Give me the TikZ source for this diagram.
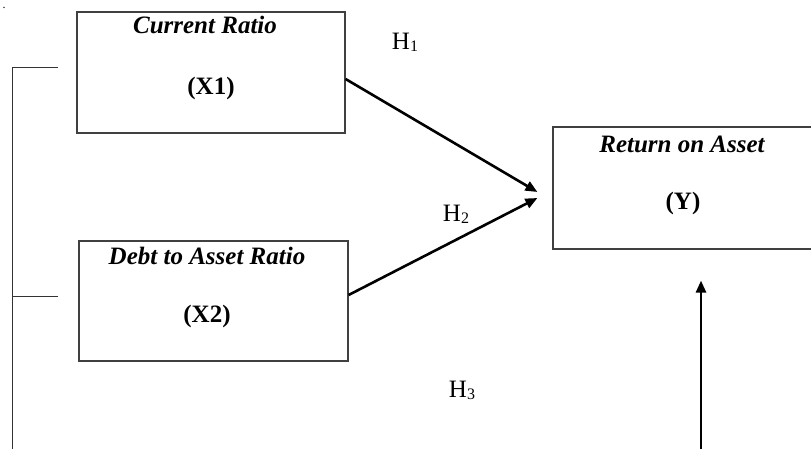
\documentclass[tikz,border=0pt]{standalone}
\usepackage{fontspec}
\setmainfont{Liberation Serif}
\usetikzlibrary{arrows.meta}
\tikzset{
  varbox/.style={draw=black!75, line width=1.2pt, rectangle, inner sep=0pt},
  ttl/.style={font=\fontsize{25}{25}\selectfont\bfseries\itshape, inner sep=0pt, anchor=center},
  code/.style={font=\fontsize{25}{25}\selectfont\bfseries, inner sep=0pt, anchor=center},
  hyp/.style={font=\fontsize{25}{25}\selectfont, inner sep=0pt, anchor=center},
  arr/.style={line width=2.6pt, -{Triangle[length=12pt,width=10pt]}},
  thin/.style={line width=1pt, black!80}
}
\newcommand{\hsub}[1]{H\raisebox{-2pt}{\fontsize{16}{16}\selectfont #1}}
\begin{document}
\begin{tikzpicture}[x=1pt,y=-1pt]
\useasboundingbox (0,0) rectangle (811,448);
% boxes
\node[varbox, minimum width=268pt, minimum height=121pt] (x1) at (211,72.5) {};
\node[varbox, minimum width=269pt, minimum height=120pt] (x2) at (213.5,301) {};
\node[varbox, minimum width=260pt, minimum height=122pt] (y) at (683,188) {};
% texts
\node[ttl] (x1t) at (205,25) {Current Ratio};
\node[code] (x1c) at (211,88) {(X1)};
\node[ttl] (x2t) at (207,256) {Debt to Asset Ratio};
\node[code] (x2c) at (207,316) {(X2)};
\node[ttl] (yt) at (682,144) {Return on Asset};
\node[code] (yc) at (683,203) {(Y)};
\node[hyp] (h1) at (405,42) {\hsub{1}};
\node[hyp] (h2) at (456,214) {\hsub{2}};
\node[hyp] (h3) at (462,390) {\hsub{3}};
\node[inner sep=0pt, anchor=base, font=\fontsize{12}{12}\selectfont] (dot) at (4,8) {.};
% arrows
\coordinate (t1) at ([xshift=-15pt,yshift=-4pt]y.west);
\coordinate (t2) at ([xshift=-15pt,yshift=-10pt]y.west);
\draw[arr] ([yshift=-6.5pt]x1.east) -- (t1);
\draw[arr] ([yshift=6pt]x2.east) -- (t2);
\coordinate (vb) at (701,452);
\coordinate (vt) at ([yshift=-31pt]y.south -| vb);
\draw[arr] (vb) -- (vt);
% bracket
\coordinate (b1) at (58,67);
\coordinate (b2) at (58,296);
\coordinate (bb) at (12,452);
\draw[thin] (b1) -- (bb |- b1) -- (bb);
\draw[thin] (b2) -- (bb |- b2);
\end{tikzpicture}
\end{document}
